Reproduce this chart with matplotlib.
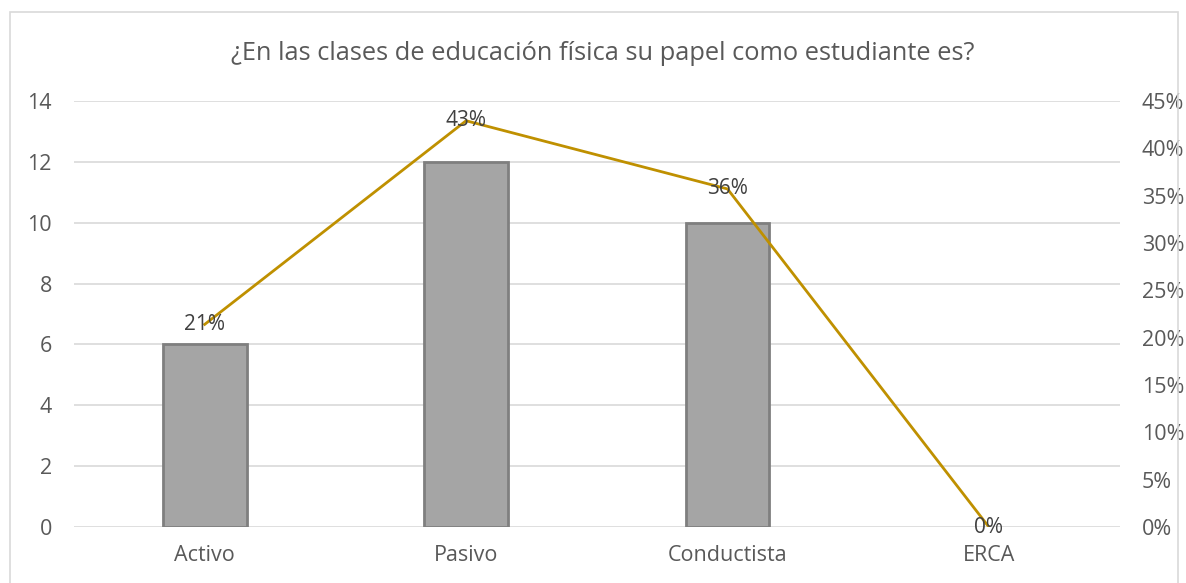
import matplotlib
matplotlib.use("Agg")
from matplotlib import pyplot as plt
from matplotlib.patches import Rectangle

categories = ["Activo", "Pasivo", "Conductista", "ERCA"]
counts = [6, 12, 10, 0]
shares = [0.214, 0.429, 0.357, 0.0]
share_labels = ["21%", "43%", "36%", "0%"]
left_ticks = [0, 2, 4, 6, 8, 10, 12, 14]
right_ticks = [0, 0.05, 0.10, 0.15, 0.20, 0.25, 0.30, 0.35, 0.40, 0.45]

plt.rcParams['font.family'] = ['Open Sans', 'DejaVu Sans']
text_color = '#595959'
grid_color = '#D9D9D9'

fig = plt.figure(figsize=(11.86, 5.83), dpi=100)
ax = fig.add_axes([0.0624, 0.096, 0.8816, 0.731])

# Bars on the left axis (no outline on empty bars)
x = list(range(len(categories)))
edges = ['#7F7F7F' if c > 0 else 'none' for c in counts]
ax.bar(x, counts, width=0.32, color='#A5A5A5', edgecolor=edges,
       linewidth=2, zorder=3)
ax.set_ylim(0, 14)
ax.set_xlim(-0.5, len(categories) - 0.5)
ax.set_yticks(left_ticks)
ax.set_xticks(x)
ax.set_xticklabels(categories)
ax.grid(axis='y', color=grid_color, linewidth=1.2, zorder=0)
ax.set_axisbelow(True)
for s in ax.spines.values():
    s.set_visible(False)
ax.tick_params(length=0, labelsize=15.5, colors=text_color, pad=16)
ax.tick_params(axis='x', pad=13)

# Percentages on the right axis
ax2 = ax.twinx()
ax2.plot(x, shares, color='#BF9000', linewidth=2, zorder=4)
ax2.set_ylim(0, 0.45)
ax2.set_yticks(right_ticks)
ax2.set_yticklabels([f"{int(round(t * 100))}%" for t in right_ticks])
for s in ax2.spines.values():
    s.set_visible(False)
ax2.tick_params(length=0, labelsize=15.5, colors=text_color, pad=16)
for xi, yi, lab in zip(x, shares, share_labels):
    ax2.text(xi, yi, lab, ha='center', va='center', fontsize=15,
             color='#404040', zorder=5)

fig.text(0.508, 0.908, "¿En las clases de educación física su papel como estudiante es?",
         ha='center', va='center', fontsize=18.3, color=text_color)

# Chart frame
fig.patches.append(Rectangle((10 / 1186, -0.01), 1168 / 1186, 1 - 12 / 583 + 0.01,
                             transform=fig.transFigure, fill=False,
                             edgecolor=grid_color, linewidth=1.2))

fig.savefig("out.png", dpi=100)
